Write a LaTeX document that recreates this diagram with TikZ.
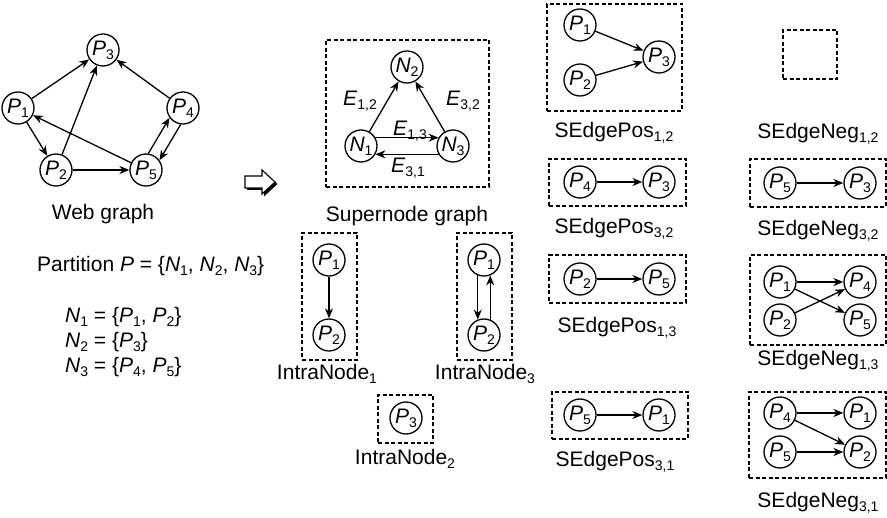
\documentclass[tikz,border=0pt]{standalone}
\usepackage{fontspec}
\setmainfont{Liberation Sans}
\usetikzlibrary{arrows.meta,calc}
\newcommand\bigfnt{\fontsize{21}{25}\selectfont}
\newcommand\lowsub[1]{\raisebox{-4pt}{\fontsize{14}{14}\selectfont #1}}
\newcommand\myP[1]{\textit{P}\lowsub{#1}}
\newcommand\myN[1]{\textit{N}\lowsub{#1}}
\newcommand\myE[1]{\textit{E}\lowsub{#1}}
\begin{document}
\begin{tikzpicture}[x=1pt,y=-1pt,
  pn/.style={circle,draw,line width=1.3pt,minimum size=32pt,inner sep=0pt,font=\bigfnt},
  arr/.style={-{Stealth[length=10pt,width=8pt]},line width=1.3pt},
  dbox/.style={draw,dash pattern=on 4pt off 2.5pt,line width=1.3pt,inner sep=0pt},
  lbl/.style={font=\bigfnt,inner sep=0pt,anchor=base}]
\useasboundingbox (0,0) rectangle (887,518);

% ---------- Web graph ----------
\node[pn] (w3) at (103,50) {\myP{3}};
\node[pn] (w1) at (18,108) {\myP{1}};
\node[pn] (w4) at (183,108) {\myP{4}};
\node[pn] (w2) at (56,170) {\myP{2}};
\node[pn] (w5) at (146,170) {\myP{5}};
\draw[arr] (w1) -- (w3);
\draw[arr] (w2) -- (w3);
\draw[arr] (w4) -- (w3);
\draw[arr] (w1) -- (w2);
\draw[arr] (w2) -- (w5);
\draw[arr] (w5) -- (w1);
\draw[arr] (w5.82) -- (w4.216);
\draw[arr] (w4.262) -- (w5.36);
\node[lbl] (wlbl) at (103,220) {Web graph};

\node[lbl,anchor=base west] (part) at (37,272) {Partition \textit{P} = \{\myN{1}, \myN{2}, \myN{3}\}};
\node[lbl,anchor=base west] (nl1) at (65,323) {\myN{1} = \{\myP{1}, \myP{2}\}};
\node[lbl,anchor=base west] (nl2) at (65,348) {\myN{2} = \{\myP{3}\}};
\node[lbl,anchor=base west] (nl3) at (65,373) {\myN{3} = \{\myP{4}, \myP{5}\}};

% ---------- block arrow ----------
\fill[black] (247,178) -- (264,178) -- (264,172) -- (277.5,184) -- (264,196.5) -- (264,190) -- (247,190) -- cycle;
\filldraw[fill=white,line width=1.1pt] (245,176) -- (262,176) -- (262,170) -- (275,182) -- (262,194) -- (262,188) -- (245,188) -- cycle;

% ---------- Supernode graph ----------
\node[dbox,minimum width=163pt,minimum height=147pt] (sbox) at (407.5,113.5) {};
\node[pn] (n2) at (407,67) {\myN{2}};
\node[pn] (n1) at (361,146) {\myN{1}};
\node[pn] (n3) at (453,146) {\myN{3}};
\draw[arr] (n1) -- (n2);
\draw[arr] (n3) -- (n2);
\draw[arr] (n1.30) -- (n3.150);
\draw[arr] (n3.-150) -- (n1.-30);
\node[lbl] (e12) at (360,106) {\myE{1,2}};
\node[lbl] (e32) at (463,106) {\myE{3,2}};
\node[lbl] (e13) at (410,136) {\myE{1,3}};
\node[lbl] (e31) at (408,173) {\myE{3,1}};
\node[lbl] (slbl) at (407,222) {Supernode graph};

% ---------- IntraNodes ----------
\node[dbox,minimum width=55pt,minimum height=127pt] (ib1) at (329.5,296.5) {};
\node[pn] (i1a) at (329,260) {\myP{1}};
\node[pn] (i1b) at (329,335) {\myP{2}};
\draw[arr] (i1a) -- (i1b);
\node[lbl] (il1) at (327,380) {IntraNode\lowsub{1}};

\node[dbox,minimum width=55pt,minimum height=127pt] (ib3) at (484.5,296.5) {};
\node[pn] (i3a) at (484,260) {\myP{1}};
\node[pn] (i3b) at (484,335) {\myP{2}};
\draw[arr] (i3a.-112) -- (i3b.112);
\draw[arr] (i3b.68) -- (i3a.-68);
\node[lbl] (il3) at (485,380) {IntraNode\lowsub{3}};

\node[dbox,minimum width=55pt,minimum height=48pt] (ib2) at (405.5,419) {};
\node[pn] (i2a) at (406,418) {\myP{3}};
\node[lbl] (il2) at (405,465) {IntraNode\lowsub{2}};

% ---------- SEdgePos ----------
\node[dbox,minimum width=135pt,minimum height=107pt] (pb12) at (614.5,57.5) {};
\node[pn] (p12a) at (580,25) {\myP{1}};
\node[pn] (p12b) at (580,80) {\myP{2}};
\node[pn] (p12c) at (659,57) {\myP{3}};
\draw[arr] (p12a) -- (p12c);
\draw[arr] (p12b) -- (p12c);
\node[lbl] (pl12) at (614,138) {SEdgePos\lowsub{1,2}};

\node[dbox,minimum width=137pt,minimum height=47pt] (pb32) at (617.5,182.5) {};
\node[pn] (p32a) at (580,182) {\myP{4}};
\node[pn] (p32b) at (659,182) {\myP{3}};
\draw[arr] (p32a) -- (p32b);
\node[lbl] (pl32) at (614,234) {SEdgePos\lowsub{3,2}};

\node[dbox,minimum width=137pt,minimum height=48pt] (pb13) at (617.5,279) {};
\node[pn] (p13a) at (580,279) {\myP{2}};
\node[pn] (p13b) at (659,279) {\myP{5}};
\draw[arr] (p13a) -- (p13b);
\node[lbl] (pl13) at (617,333) {SEdgePos\lowsub{1,3}};

\node[dbox,minimum width=136pt,minimum height=47pt] (pb31) at (620,415.5) {};
\node[pn] (p31a) at (580,415) {\myP{5}};
\node[pn] (p31b) at (659,415) {\myP{1}};
\draw[arr] (p31a) -- (p31b);
\node[lbl] (pl31) at (615,467) {SEdgePos\lowsub{3,1}};

% ---------- SEdgeNeg ----------
\node[dbox,minimum width=54pt,minimum height=49pt] (nb12) at (810,54.5) {};
\node[lbl] (nl12) at (818,139) {SEdgeNeg\lowsub{1,2}};

\node[dbox,minimum width=136pt,minimum height=48pt] (nb32) at (818,183) {};
\node[pn] (q32a) at (780,183) {\myP{5}};
\node[pn] (q32b) at (860,183) {\myP{3}};
\draw[arr] (q32a) -- (q32b);
\node[lbl] (nl32) at (818,236) {SEdgeNeg\lowsub{3,2}};

\node[dbox,minimum width=136pt,minimum height=90pt] (nb13) at (818,300) {};
\node[pn] (q13a) at (780,282) {\myP{1}};
\node[pn] (q13b) at (860,282) {\myP{4}};
\node[pn] (q13c) at (780,320) {\myP{2}};
\node[pn] (q13d) at (860,320) {\myP{5}};
\draw[arr] (q13a) -- (q13b);
\draw[arr] (q13a) -- (q13d);
\draw[arr] (q13c) -- (q13b);
\node[lbl] (nl13) at (818,366) {SEdgeNeg\lowsub{1,3}};

\node[dbox,minimum width=137pt,minimum height=86pt] (nb31) at (817.5,435) {};
\node[pn] (q31a) at (780,413) {\myP{4}};
\node[pn] (q31b) at (860,413) {\myP{1}};
\node[pn] (q31c) at (780,452) {\myP{5}};
\node[pn] (q31d) at (860,452) {\myP{2}};
\draw[arr] (q31a) -- (q31b);
\draw[arr] (q31a) -- (q31d);
\draw[arr] (q31c) -- (q31d);
\node[lbl] (nl31) at (818,508) {SEdgeNeg\lowsub{3,1}};
\end{tikzpicture}
\end{document}
